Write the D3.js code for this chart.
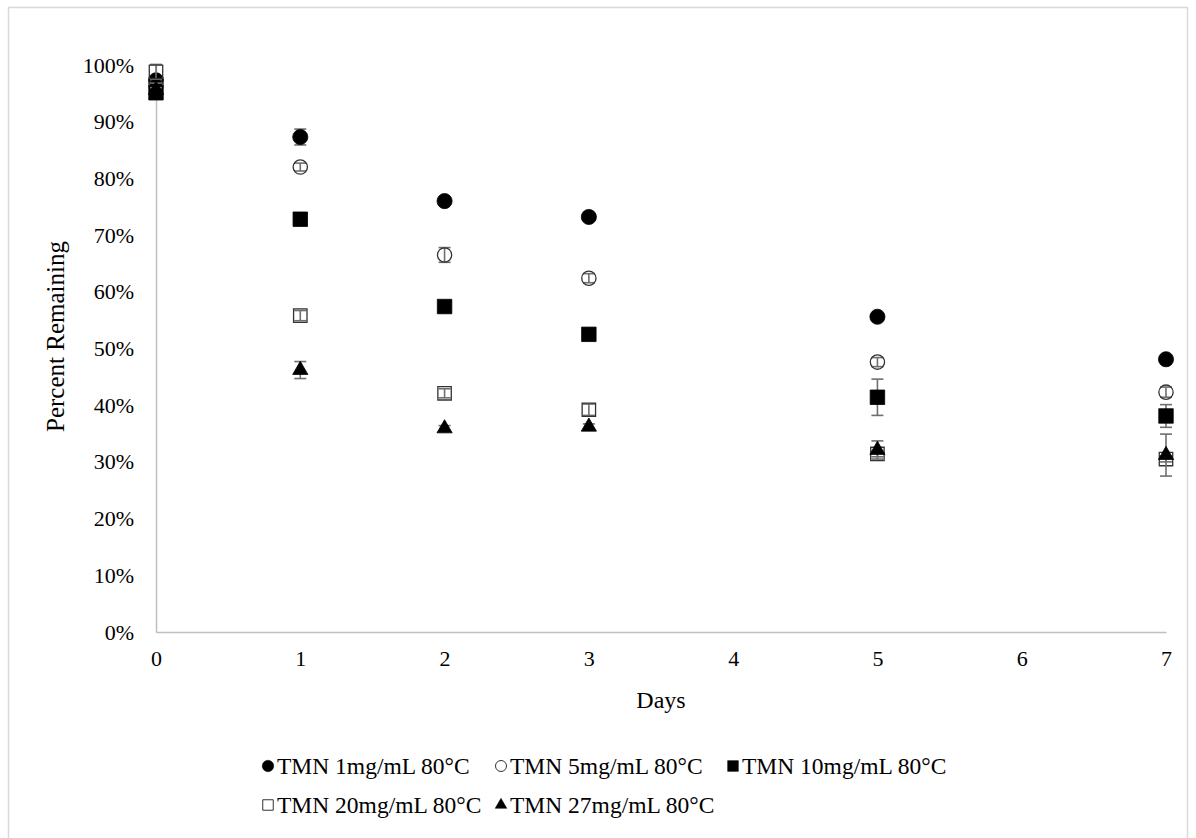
<!DOCTYPE html>
<html>
<head>
<meta charset="utf-8">
<script src="https://cdn.jsdelivr.net/npm/d3@7"></script>
<style>
  html, body { margin: 0; padding: 0; background: #fff; }
  svg { display: block; font-family: "Liberation Serif", "Times New Roman", serif; }
</style>
</head>
<body>
<svg id="chart" width="1196" height="838"></svg>
<script>
// Storage days and percent of TMN remaining at 80°C, mean ± error
const days = [0, 1, 2, 3, 5, 7];
const xTickLabels = ["0", "1", "2", "3", "4", "5", "6", "7"];
const yTickValues = [0, 10, 20, 30, 40, 50, 60, 70, 80, 90, 100];

const seriesNames = [
  "TMN 1mg/mL 80°C",
  "TMN 5mg/mL 80°C",
  "TMN 10mg/mL 80°C",
  "TMN 20mg/mL 80°C",
  "TMN 27mg/mL 80°C"
];

const tmn1 = [97.3, 87.3, 76.0, 73.2, 55.6, 48.1];
const tmn1Err = [0.5, 1.4, 0.4, 0.3, 0.3, 0.3];
const tmn5 = [96.4, 82.0, 66.5, 62.4, 47.6, 42.3];
const tmn5Err = [0.4, 0.7, 1.3, 0.8, 0.8, 0.9];
const tmn10 = [95.1, 72.8, 57.4, 52.5, 41.4, 38.1];
const tmn10Err = [0.5, 0.8, 0.3, 0.4, 3.2, 2.0];
const tmn20 = [98.8, 55.8, 42.1, 39.2, 31.4, 30.5];
const tmn20Err = [1.3, 0.9, 0.8, 1.0, 0.5, 0.5];
const tmn27 = [95.6, 46.2, 35.9, 36.2, 32.1, 31.2];
const tmn27Err = [0.4, 1.5, 0.5, 0.5, 1.6, 3.7];

// marker look per series: d3 symbol type, size (area) and fill
const markerStyles = [
  { type: d3.symbolCircle, size: 180, legendSize: 104, filled: true },
  { type: d3.symbolCircle, size: 160, legendSize: 95, filled: false },
  { type: d3.symbolSquare, size: 210, legendSize: 115, filled: true },
  { type: d3.symbolSquare, size: 180, legendSize: 110, filled: false },
  { type: d3.symbolTriangle, size: 100, legendSize: 58, filled: true }
];

const values = [tmn1, tmn5, tmn10, tmn20, tmn27];
const errors = [tmn1Err, tmn5Err, tmn10Err, tmn20Err, tmn27Err];

const series = seriesNames.map((name, i) => ({
  name,
  style: markerStyles[i],
  points: days.map((d, j) => ({ day: d, v: values[i][j], e: errors[i][j] }))
}));

const svg = d3.select("#chart");

// outer chart frame
svg.append("rect")
  .attr("x", 8.5).attr("y", 7.5)
  .attr("width", 1179).attr("height", 860)
  .attr("fill", "#fff").attr("stroke", "#d9d9d9").attr("stroke-width", 1.5);

const plot = { left: 156, right: 1166, top: 65, bottom: 632 };

const x = d3.scaleLinear().domain([0, 7]).range([plot.left, plot.right]);
const y = d3.scaleLinear().domain([0, 100]).range([plot.bottom, plot.top]);

// axes: grey domain lines, no tick marks
const xAxis = d3.axisBottom(x)
  .tickValues(d3.range(0, 8))
  .tickFormat((d, i) => xTickLabels[i])
  .tickSize(0).tickPadding(18);
const gx = svg.append("g").attr("transform", `translate(0,${plot.bottom})`).call(xAxis);
gx.select(".domain").attr("stroke", "#bfbfbf").attr("stroke-width", 1.5);
gx.selectAll("text").attr("font-size", 22).attr("fill", "#000")
  .attr("font-family", "Liberation Serif, serif");

const yAxis = d3.axisLeft(y)
  .tickValues(yTickValues)
  .tickFormat(d => d + "%")
  .tickSize(0).tickPadding(22);
const gy = svg.append("g").attr("transform", `translate(${plot.left},0)`).call(yAxis);
gy.select(".domain").attr("stroke", "#bfbfbf").attr("stroke-width", 1.5);
gy.selectAll("text").attr("font-size", 22).attr("fill", "#000")
  .attr("font-family", "Liberation Serif, serif");

// axis titles
svg.append("text")
  .attr("x", (plot.left + plot.right) / 2).attr("y", 708)
  .attr("text-anchor", "middle")
  .attr("font-size", 24).attr("fill", "#000")
  .text("Days");

svg.append("text")
  .attr("transform", `translate(64,${(plot.top + plot.bottom) / 2 - 12}) rotate(-90)`)
  .attr("text-anchor", "middle")
  .attr("font-size", 25).attr("fill", "#000")
  .text("Percent Remaining");

const symbolGen = (type, size) => d3.symbol().type(type).size(size)();

// series: error bars under markers, later series on top
series.forEach(s => {
  const g = svg.append("g");
  const eb = g.selectAll("g.err").data(s.points).enter().append("g")
    .attr("stroke", "#6f6f6f").attr("stroke-width", 1.6);
  eb.append("line")
    .attr("x1", d => x(d.day)).attr("x2", d => x(d.day))
    .attr("y1", d => y(d.v + d.e)).attr("y2", d => y(d.v - d.e));
  eb.append("line")
    .attr("x1", d => x(d.day) - 6).attr("x2", d => x(d.day) + 6)
    .attr("y1", d => y(d.v + d.e)).attr("y2", d => y(d.v + d.e));
  eb.append("line")
    .attr("x1", d => x(d.day) - 6).attr("x2", d => x(d.day) + 6)
    .attr("y1", d => y(d.v - d.e)).attr("y2", d => y(d.v - d.e));

  g.selectAll("path.mk").data(s.points).enter().append("path")
    .attr("class", "mk")
    .attr("transform", d => `translate(${x(d.day)},${y(d.v)})`)
    .attr("d", symbolGen(s.style.type, s.style.size))
    .attr("fill", s.style.filled ? "#000" : "none")
    .attr("stroke", s.style.filled ? "#000" : "#333")
    .attr("stroke-width", s.style.filled ? 0.8 : 1.3);
});

// legend: grid of three columns, two rows
const legendCols = [268, 501, 733];
const legendRowsY = [766, 805];
series.forEach((s, i) => {
  const col = i % 3, row = Math.floor(i / 3);
  const item = svg.append("g")
    .attr("transform", `translate(${legendCols[col]},${legendRowsY[row]})`);
  item.append("path")
    .attr("d", symbolGen(s.style.type, s.style.legendSize))
    .attr("fill", s.style.filled ? "#000" : "none")
    .attr("stroke", s.style.filled ? "#000" : "#333")
    .attr("stroke-width", s.style.filled ? 0.5 : 1);
  item.append("text")
    .attr("x", 9).attr("dy", "0.35em")
    .attr("font-size", 23.5).attr("fill", "#000")
    .text(s.name);
});
</script>
</body>
</html>
